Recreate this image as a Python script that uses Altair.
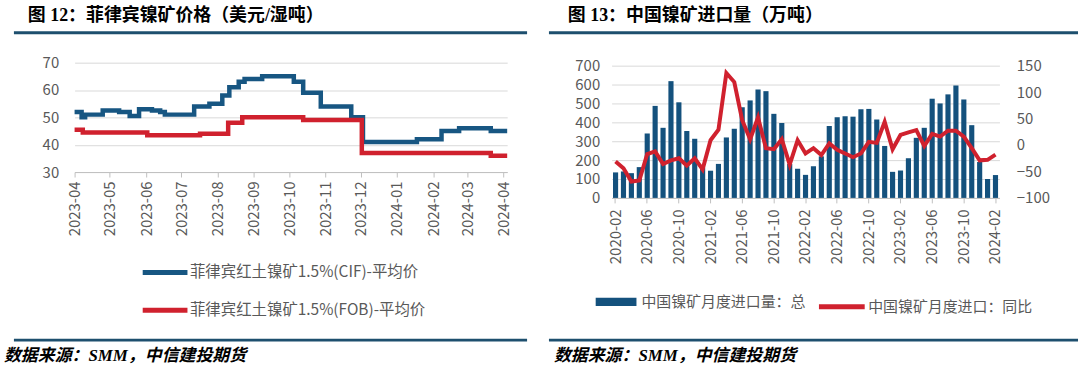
import altair as alt
import pandas as pd

# ---------------- Left panel data: Philippine nickel ore prices (step series)
cif_dates = ["2023-04-01", "2023-04-07", "2023-04-10", "2023-04-25", "2023-05-09", "2023-05-18",
             "2023-05-26", "2023-06-06", "2023-06-13", "2023-06-17", "2023-07-12", "2023-07-25",
             "2023-08-05", "2023-08-11", "2023-08-19", "2023-08-24", "2023-09-08", "2023-10-05",
             "2023-10-13", "2023-10-28", "2023-11-23", "2023-12-03", "2024-01-18", "2024-02-08",
             "2024-02-23", "2024-03-21", "2024-04-04"]
cif_vals = [52, 50, 51, 52.5, 52, 50.5, 53, 52.5, 52, 51, 54, 55, 58, 61, 63, 64, 65, 63,
            59, 54, 50, 41, 42, 45, 46, 45, 45]
fob_dates = ["2023-04-01", "2023-04-08", "2023-06-02", "2023-07-17", "2023-08-10", "2023-08-22",
             "2023-10-13", "2023-12-02", "2024-03-21", "2024-04-04"]
fob_vals = [45.5, 44.5, 43.5, 44, 48, 50, 49, 37, 36, 36]

CIF_LABEL = "菲律宾红土镍矿1.5%(CIF)-平均价"
FOB_LABEL = "菲律宾红土镍矿1.5%(FOB)-平均价"

# ---------------- Right panel data: China nickel ore imports
months = ["2020-02", "2020-03", "2020-04", "2020-05", "2020-06", "2020-07", "2020-08", "2020-09",
          "2020-10", "2020-11", "2020-12", "2021-01", "2021-02", "2021-03", "2021-04", "2021-05",
          "2021-06", "2021-07", "2021-08", "2021-09", "2021-10", "2021-11", "2021-12", "2022-01",
          "2022-02", "2022-03", "2022-04", "2022-05", "2022-06", "2022-07", "2022-08", "2022-09",
          "2022-10", "2022-11", "2022-12", "2023-01", "2023-02", "2023-03", "2023-04", "2023-05",
          "2023-06", "2023-07", "2023-08", "2023-09", "2023-10", "2023-11", "2023-12", "2024-01",
          "2024-02"]
imports_vals = [135, 140, 131, 163, 341, 487, 371, 618, 506, 354,
                313, 160, 144, 180, 320, 366, 480, 516, 574, 565,
                445, 397, 180, 154, 122, 168, 220, 381, 427, 432,
                430, 469, 471, 415, 275, 138, 145, 210, 318, 371,
                525, 500, 548, 595, 521, 385, 190, 100, 121]
yoy_vals = [-31, -44, -69, -67, -17, -12, -36, -29, -25, -39,
            -25, -46, 9, 29, 136, 119, 47, 11, 52, -6,
            -8, 11, -37, 9, -16, -6, -19, 3, -9, -16,
            -23, -16, 6, 4, 44, -8, 19, 24, 28, -2,
            21, 16, 27, 27, 16, -6, -29, -28, -18]
month_ticks = ["2020-02", "2020-06", "2020-10", "2021-02", "2021-06", "2021-10", "2022-02",
               "2022-06", "2022-10", "2023-02", "2023-06", "2023-10", "2024-02"]
BAR_LABEL = "中国镍矿月度进口量：总"
LINE_LABEL = "中国镍矿月度进口：同比"

TITLE_L = "图 12：菲律宾镍矿价格（美元/湿吨）"
TITLE_R = "图 13：中国镍矿进口量（万吨）"
SOURCE = "数据来源：SMM，中信建投期货"

BLUE = "#175682"
RED = "#d0212e"
BAR = "#14517d"
HEAD = "#1d4f6e"
GRID = "#d9d9d9"
LAB = "#595959"
CJK = "Noto Sans CJK SC"
TITLE_FONT = "Liberation Serif, Noto Sans CJK SC"

# ---------------- helpers for decoration layers
def text_layer(txt, x, y, size, italic=False):
    mk = dict(align="left", baseline="middle", fontSize=size, fontWeight="bold",
              font=TITLE_FONT, color="#000000")
    if italic:
        mk["fontStyle"] = "italic"
    return alt.Chart(pd.DataFrame({"t": [txt]})).mark_text(**mk).encode(
        x=alt.value(x), y=alt.value(y), text="t:N")


def rule_layer(x1, x2, y, w=3):
    return alt.Chart(pd.DataFrame({"a": [0]})).mark_rule(color=HEAD, strokeWidth=w).encode(
        x=alt.value(x1), x2=alt.value(x2), y=alt.value(y))


# ---------------- Left panel (plot origin shared with right panel; y range lifted 3px)
price_df = pd.concat([
    pd.DataFrame({"date": cif_dates, "value": cif_vals, "series": CIF_LABEL}),
    pd.DataFrame({"date": fob_dates, "value": fob_vals, "series": FOB_LABEL}),
])
month_vals = [alt.DateTime(year=2023 + (3 + i) // 12, month=(3 + i) % 12 + 1, date=1, utc=True)
              for i in range(13)]

lines_left = alt.Chart(price_df).mark_line(interpolate="step-after", strokeWidth=4.5).encode(
    x=alt.X("date:T",
            scale=alt.Scale(type="utc",
                            domain=[alt.DateTime(year=2023, month=4, date=1, utc=True),
                                    alt.DateTime(year=2024, month=4, date=4, utc=True)]),
            axis=alt.Axis(values=month_vals, labelExpr="utcFormat(datum.value, '%Y-%m')",
                          labelAngle=270, labelAlign="right", labelBaseline="middle",
                          labelPadding=4, tickSize=5, tickColor="#bfbfbf",
                          domainColor="#bfbfbf", grid=False),
            title=None),
    y=alt.Y("value:Q", scale=alt.Scale(domain=[30, 70], range=[107, -3]),
            axis=alt.Axis(values=[30, 40, 50, 60, 70], grid=True, domain=False, ticks=False,
                          labelPadding=16),
            title=None),
    color=alt.Color("series:N",
                    scale=alt.Scale(domain=[CIF_LABEL, FOB_LABEL], range=[BLUE, RED]),
                    legend=alt.Legend(orient="none", legendX=66, legendY=183,
                                      direction="vertical", symbolType="stroke",
                                      symbolSize=2025, symbolStrokeWidth=5,
                                      labelOffset=0, rowPadding=3, labelFontSize=15.5),
                    title=None),
)

left = alt.layer(
    lines_left,
    text_layer(TITLE_L, -47, -50, 18),
    rule_layer(-61, 455, -33),
    rule_layer(-61, 455, 276, 3),
    text_layer(SOURCE, -71, 292, 17, italic=True),
).properties(width=435, height=107)

# ---------------- Right panel
imp_df = pd.DataFrame({"month": months, "imports": imports_vals, "yoy": yoy_vals,
                       "sb": BAR_LABEL, "sl": LINE_LABEL})

xband = alt.X("month:O", scale=alt.Scale(paddingInner=0.35, paddingOuter=0.175),
              axis=alt.Axis(values=month_ticks, labelAngle=270, labelAlign="right",
                            labelBaseline="middle", labelPadding=6, tickSize=5,
                            tickColor="#bfbfbf", domainColor="#bfbfbf", grid=False),
              title=None)

bars = alt.Chart(imp_df).mark_bar().encode(
    x=xband,
    y=alt.Y("imports:Q", scale=alt.Scale(domain=[0, 700]),
            axis=alt.Axis(values=[0, 100, 200, 300, 400, 500, 600, 700], grid=True,
                          domain=False, ticks=False, labelPadding=12),
            title=None),
    fill=alt.Fill("sb:N", scale=alt.Scale(domain=[BAR_LABEL], range=[BAR]),
                  legend=alt.Legend(orient="none", legendX=-16, legendY=217,
                                    symbolType="M-1,-0.2H1V0.2H-1Z", symbolSize=1681,
                                    symbolStrokeWidth=0, labelOffset=5, labelFontSize=15),
                  title=None),
)

line = alt.Chart(imp_df).mark_line(strokeWidth=4).encode(
    x=alt.X("month:O"),
    y=alt.Y("yoy:Q", scale=alt.Scale(domain=[-100, 150]),
            axis=alt.Axis(orient="right", values=[-100, -50, 0, 50, 100, 150], grid=False,
                          domain=False, ticks=False, labelPadding=17),
            title=None),
    stroke=alt.Stroke("sl:N", scale=alt.Scale(domain=[LINE_LABEL], range=[RED]),
                      legend=alt.Legend(orient="none", legendX=206, legendY=217,
                                        symbolType="stroke", symbolSize=2116,
                                        symbolStrokeWidth=5, labelOffset=1, labelFontSize=15),
                      title=None),
)

right = alt.layer(
    bars, line,
    text_layer(TITLE_R, -44, -50, 18),
    rule_layer(-63, 469, -33),
    rule_layer(-63, 469, 276, 3),
    text_layer(SOURCE, -58, 292, 17, italic=True),
).resolve_scale(y="independent", fill="independent", stroke="independent").properties(
    width=390, height=133)

chart = alt.hconcat(left, right, spacing=18).properties(
    padding={"left": 4, "top": 6, "right": 0, "bottom": 0},
    background="#ffffff",
).configure_view(stroke=None).configure_axis(
    labelFont=CJK, labelFontSize=15, labelColor=LAB, gridColor=GRID, gridWidth=1,
).configure_legend(
    labelFont=CJK, labelColor=LAB, padding=0, labelLimit=400,
)

chart.save("out.html", embed_options={"renderer": "svg", "actions": False})
